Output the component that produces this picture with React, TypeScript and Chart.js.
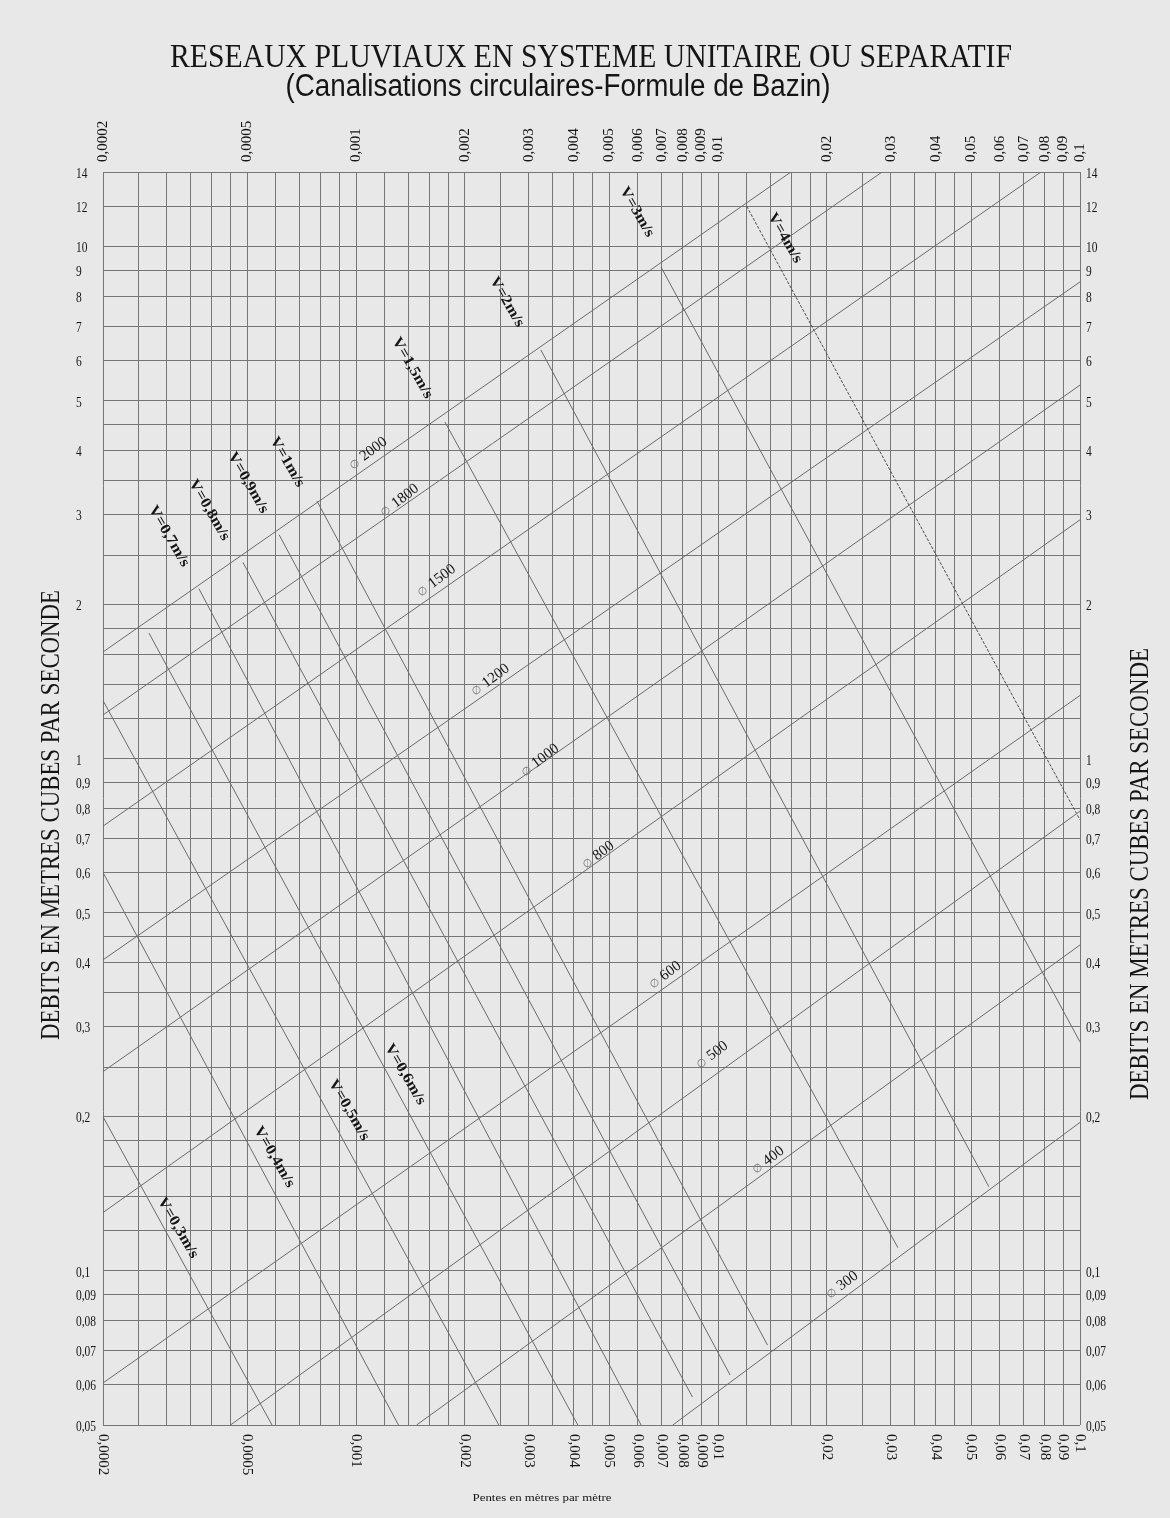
import React, { useEffect, useRef } from "react";
import { Chart, registerables } from "chart.js";

Chart.register(...registerables);

// ---------- grid / tick values ----------
const xGridValues = [
  0.0002, 0.00025, 0.0003, 0.00035, 0.0004, 0.00045, 0.0005, 0.0006, 0.0007, 0.0008, 0.0009,
  0.001, 0.0012, 0.0014, 0.0016, 0.0018, 0.002, 0.0025, 0.003, 0.0035, 0.004, 0.0045, 0.005,
  0.006, 0.007, 0.008, 0.009, 0.01, 0.012, 0.014, 0.016, 0.018, 0.02, 0.025, 0.03, 0.035, 0.04,
  0.045, 0.05, 0.06, 0.07, 0.08, 0.09, 0.1,
];
const yGridValues = [
  0.05, 0.06, 0.07, 0.08, 0.09, 0.1, 0.12, 0.14, 0.16, 0.18, 0.2, 0.25, 0.3, 0.35, 0.4, 0.45,
  0.5, 0.6, 0.7, 0.8, 0.9, 1, 1.2, 1.4, 1.6, 1.8, 2, 2.5, 3, 3.5, 4, 4.5, 5, 6, 7, 8, 9, 10, 12, 14,
];
const xTickLabels = [
  0.0002, 0.0005, 0.001, 0.002, 0.003, 0.004, 0.005, 0.006, 0.007, 0.008, 0.009, 0.01, 0.02,
  0.03, 0.04, 0.05, 0.06, 0.07, 0.08, 0.09, 0.1,
];
const yTickLabels = [
  14, 12, 10, 9, 8, 7, 6, 5, 4, 3, 2, 1, 0.9, 0.8, 0.7, 0.6, 0.5, 0.4, 0.3, 0.2, 0.1, 0.09, 0.08,
  0.07, 0.06, 0.05,
];

// ---------- diameter lines (mm): start / end points [slope, flow] ----------
const diameters = [300, 400, 500, 600, 800, 1000, 1200, 1500, 1800, 2000];
const diamStartI = [0.0075, 0.00147, 0.00045, 0.0002, 0.0002, 0.0002, 0.0002, 0.0002, 0.0002, 0.0002];
const diamStartQ = [0.05, 0.05, 0.05, 0.0604, 0.13, 0.245, 0.405, 0.739, 1.218, 1.617];
const diamEndI = [0.1, 0.1, 0.1, 0.1, 0.1, 0.1, 0.1, 0.078, 0.0284, 0.0159];
const diamEndQ = [0.195, 0.433, 0.79, 1.33, 2.93, 5.37, 8.54, 14, 14, 14];
// label anchors
const diamLabelI = [0.022, 0.01374, 0.00962, 0.00714, 0.00466, 0.00322, 0.00235, 0.00167, 0.00132, 0.00108];
const diamLabelQ = [0.0938, 0.1645, 0.264, 0.378, 0.649, 0.994, 1.425, 2.23, 3.2, 3.95];

// ---------- velocity lines (m/s) ----------
const velocities = [0.3, 0.4, 0.5, 0.6, 0.7, 0.8, 0.9, 1, 1.5, 2, 3, 4];
const velStartI = [0.0002, 0.0002, 0.0002, 0.000268, 0.000368, 0.000487, 0.000613, 0.00078, 0.00176, 0.00324, 0.00696, 0.012];
const velStartQ = [0.2, 0.6, 1.3, 1.76, 2.15, 2.42, 2.74, 3.19, 4.55, 6.29, 9.13, 12.0];
const velEndI = [0.000586, 0.00131, 0.00248, 0.0041, 0.00613, 0.0085, 0.0108, 0.0137, 0.0314, 0.056, 0.1, 0.1];
const velEndQ = [0.05, 0.05, 0.05, 0.05, 0.05, 0.0567, 0.0626, 0.0716, 0.111, 0.146, 0.28, 0.76];
// label anchors
const velLabelI = [0.000322, 0.000594, 0.000956, 0.001366, 0.000304, 0.000393, 0.000503, 0.000645, 0.00143, 0.00261, 0.00597, 0.0153];
const velLabelQ = [0.1213, 0.1669, 0.206, 0.242, 2.72, 3.06, 3.46, 3.8, 5.8, 7.8, 11.69, 10.4];

const TITLE = "RESEAUX PLUVIAUX EN SYSTEME UNITAIRE OU SEPARATIF";
const SUBTITLE = "(Canalisations circulaires-Formule de Bazin)";
const Y_TITLE = "DEBITS EN METRES CUBES PAR SECONDE";
const X_TITLE = "Pentes en mètres par mètre";

const BG = "#e8e8e8";
const GRID = "#767676";
const LINE = "#6a6a6a";
const INK = "#151515";
const SERIF = '"Liberation Serif", "Times New Roman", serif';
const NARROW = '"Liberation Sans Narrow", "Liberation Sans", Arial, sans-serif';

const fmt = (v: number) => String(v).replace(".", ",");

type TOpts = {
  font: string;
  angle?: number;
  align?: CanvasTextAlign;
  baseline?: CanvasTextBaseline;
  scaleX?: number;
  width?: number;
  color?: string;
};

function txt(ctx: CanvasRenderingContext2D, s: string, x: number, y: number, o: TOpts) {
  ctx.save();
  ctx.translate(x, y);
  if (o.angle) ctx.rotate(o.angle);
  ctx.font = o.font;
  ctx.fillStyle = o.color || INK;
  ctx.textAlign = o.align || "center";
  ctx.textBaseline = o.baseline || "middle";
  let sx = o.scaleX || 1;
  if (o.width) sx = o.width / ctx.measureText(s).width;
  ctx.scale(sx, 1);
  ctx.fillText(s, 0, 0);
  ctx.restore();
}

const bgPlugin = {
  id: "bg",
  beforeDraw(chart: any) {
    const { ctx, width, height } = chart;
    ctx.save();
    ctx.fillStyle = BG;
    ctx.fillRect(0, 0, width, height);
    ctx.restore();
  },
};

const textPlugin = {
  id: "texts",
  afterDraw(chart: any) {
    const ctx: CanvasRenderingContext2D = chart.ctx;
    const xs = chart.scales.x;
    const ys = chart.scales.y;
    const px = (v: number) => xs.getPixelForValue(v);
    const py = (v: number) => ys.getPixelForValue(v);
    const area = chart.chartArea;

    // titles
    txt(ctx, TITLE, 591, 67, { font: `33px ${SERIF}`, baseline: "alphabetic", width: 842 });
    txt(ctx, SUBTITLE, 558, 96, { font: `31px ${NARROW}`, baseline: "alphabetic", width: 545 });

    // y axis titles
    txt(ctx, Y_TITLE, 52, 815, { font: `28px ${SERIF}`, angle: -Math.PI / 2, width: 450 });
    txt(ctx, Y_TITLE, 1141, 874, { font: `28px ${SERIF}`, angle: -Math.PI / 2, width: 452 });

    // x axis title
    txt(ctx, X_TITLE, 542, 1498, { font: `11px ${SERIF}`, width: 139 });

    // y tick labels
    for (const v of yTickLabels) {
      const y = py(v) + 2;
      txt(ctx, fmt(v), 76, y, { font: `14px ${SERIF}`, align: "left", scaleX: 0.82 });
      txt(ctx, fmt(v), 1086, y, { font: `14px ${SERIF}`, align: "left", scaleX: 0.82 });
    }

    // x tick labels (top & bottom, rotated)
    for (const v of xTickLabels) {
      const x = px(v);
      txt(ctx, fmt(v), x, area.top - 10, {
        font: `15px ${SERIF}`,
        angle: -Math.PI / 2,
        align: "left",
      });
      txt(ctx, fmt(v), x, area.bottom + 9, {
        font: `15px ${SERIF}`,
        angle: Math.PI / 2,
        align: "left",
      });
    }

    // diameter labels
    const dAng = (-37 * Math.PI) / 180;
    diameters.forEach((d, i) => {
      const x = px(diamLabelI[i]);
      const y = py(diamLabelQ[i]);
      ctx.save();
      ctx.translate(x, y);
      ctx.rotate(dAng);
      ctx.textBaseline = "middle";
      ctx.textAlign = "left";
      ctx.font = `11px ${SERIF}`;
      const sym = "\u2205";
      const w1 = ctx.measureText(sym).width;
      ctx.font = `15px ${SERIF}`;
      const num = String(d);
      const w2 = ctx.measureText(num).width;
      const gap = 4;
      const total = w1 + gap + w2;
      ctx.font = `11px ${SERIF}`;
      ctx.fillStyle = "#7a7a7a";
      ctx.fillText(sym, -total / 2, 1);
      ctx.font = `15px ${SERIF}`;
      ctx.fillStyle = INK;
      ctx.fillText(num, -total / 2 + w1 + gap, 0);
      ctx.restore();
    });

    // velocity labels
    const vAng = (60 * Math.PI) / 180;
    velocities.forEach((v, i) => {
      const x = px(velLabelI[i]);
      const y = py(velLabelQ[i]);
      txt(ctx, `V=${fmt(v)}m/s`, x, y, {
        font: `bold 15px ${SERIF}`,
        angle: vAng,
        scaleX: 1.12,
      });
    });
  },
};

export default function App() {
  const ref = useRef<HTMLCanvasElement>(null);

  useEffect(() => {
    document.body.style.margin = "0";
    document.body.style.background = BG;
    const canvas = ref.current;
    if (!canvas) return;

    const diamSets = diameters.map((d, i) => ({
      label: `\u2205 ${d}`,
      data: [
        { x: diamStartI[i], y: diamStartQ[i] },
        { x: diamEndI[i], y: diamEndQ[i] },
      ],
      showLine: true,
      borderColor: LINE,
      borderWidth: 1,
      pointRadius: 0,
      fill: false,
    }));
    const velSets = velocities.map((v, i) => ({
      label: `V=${fmt(v)}m/s`,
      data: [
        { x: velStartI[i], y: velStartQ[i] },
        { x: velEndI[i], y: velEndQ[i] },
      ],
      showLine: true,
      borderColor: v === 4 ? "#4a4a4a" : LINE,
      borderWidth: 1,
      borderDash: v === 4 ? [3, 1.5] : [],
      pointRadius: 0,
      fill: false,
    }));

    const chart = new Chart(canvas, {
      type: "scatter",
      data: { datasets: [...diamSets, ...velSets] as any },
      options: {
        animation: false,
        responsive: false,
        maintainAspectRatio: false,
        layout: { padding: { left: 103, right: 90, top: 172, bottom: 93 } },
        plugins: {
          legend: { display: false },
          tooltip: { enabled: false },
          title: { display: false },
        },
        scales: {
          x: {
            type: "logarithmic",
            min: 0.0002,
            max: 0.1,
            afterBuildTicks: (s: any) => {
              s.ticks = xGridValues.map((v) => ({ value: v }));
            },
            afterFit: (s: any) => {
              s.height = 0;
            },
            ticks: { display: false },
            grid: { color: GRID, lineWidth: 1, drawTicks: false },
            border: { display: false },
          },
          y: {
            type: "logarithmic",
            min: 0.05,
            max: 14,
            afterBuildTicks: (s: any) => {
              s.ticks = yGridValues.map((v) => ({ value: v }));
            },
            afterFit: (s: any) => {
              s.width = 0;
            },
            ticks: { display: false },
            grid: { color: GRID, lineWidth: 1, drawTicks: false },
            border: { display: false },
          },
        },
      } as any,
      plugins: [bgPlugin, textPlugin],
    });

    return () => chart.destroy();
  }, []);

  return (
    <canvas
      ref={ref}
      width={1170}
      height={1518}
      style={{ display: "block", width: 1170, height: 1518 }}
    />
  );
}
